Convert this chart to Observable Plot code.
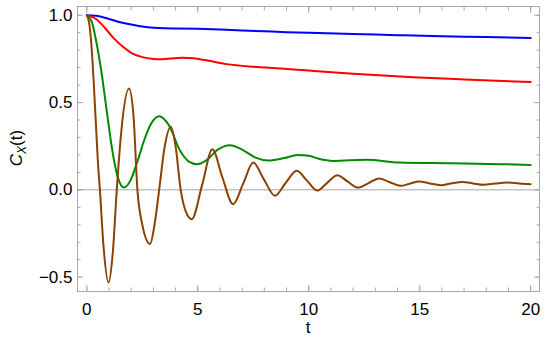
<!DOCTYPE html>
<html><head><meta charset="utf-8">
<script src="https://cdn.jsdelivr.net/npm/d3@7"></script>
<script src="https://cdn.jsdelivr.net/npm/@observablehq/plot@0.6"></script>
<style>body{margin:0;background:#fff;} svg{display:block}</style>
</head><body><div id="chart"></div>
<script>
// Data
const blueT = [0, 0.5, 1.0, 1.5, 2.0, 2.5, 3.0, 3.5, 4, 5, 6, 7, 8, 9, 10, 12, 14, 16, 18, 20];
const blueV = [1.0, 0.995, 0.978, 0.96, 0.947, 0.935, 0.928, 0.925, 0.924, 0.922, 0.918, 0.913, 0.908, 0.903, 0.899, 0.893, 0.886, 0.88, 0.875, 0.869];

const redT = [0, 0.4, 0.8, 1.2, 1.6, 2.0, 2.5, 3.0, 3.4, 3.8, 4.3, 4.8, 5.3, 6.3, 7.5, 8.74, 10, 12, 14.7, 17, 20];
const redV = [1.0, 0.98, 0.93, 0.87, 0.822, 0.785, 0.76, 0.75, 0.748, 0.752, 0.756, 0.753, 0.744, 0.72, 0.705, 0.695, 0.683, 0.665, 0.645, 0.632, 0.617];

const greenT = [0, 0.23, 0.4, 0.66, 0.9, 1.15, 1.4, 1.68, 1.95, 2.3, 2.6, 2.9, 3.26, 3.7, 4.2, 4.6, 4.98, 5.4, 5.9, 6.45, 7.0, 7.6, 8.2, 8.9, 9.5, 10.0, 10.45, 11.1, 12.6, 14.1, 16.4, 18.65, 20];
const greenV = [1.0, 0.96, 0.865, 0.674, 0.45, 0.225, 0.07, 0.013, 0.05, 0.17, 0.29, 0.38, 0.422, 0.37, 0.225, 0.162, 0.147, 0.17, 0.23, 0.256, 0.23, 0.185, 0.168, 0.182, 0.2, 0.195, 0.178, 0.166, 0.172, 0.156, 0.152, 0.147, 0.143];

const brownT = [0, 0.1, 0.2, 0.3, 0.4, 0.5, 0.59, 0.75, 0.98, 1.17, 1.35, 1.55, 1.9, 2.1, 2.28, 2.5, 2.85, 3.05, 3.26, 3.5, 3.78, 4.0, 4.23, 4.45, 4.73, 5.2, 5.66, 6.1, 6.59, 7.05, 7.5, 7.98, 8.48, 8.95, 9.46, 9.92, 10.39, 10.83, 11.29, 11.75, 12.22, 12.7, 13.17, 13.65, 14.14, 14.55, 14.97, 15.45, 15.95, 16.4, 16.92, 17.4, 17.88, 18.4, 18.95, 19.5, 20];
const brownV = [1.0, 0.96, 0.84, 0.64, 0.4, 0.16, 0.0, -0.32, -0.53, -0.36, 0.0, 0.33, 0.58, 0.43, 0.0, -0.2, -0.31, -0.2, 0.0, 0.24, 0.362, 0.25, 0.0, -0.12, -0.168, 0.03, 0.232, 0.075, -0.082, 0.037, 0.156, 0.06, -0.034, 0.038, 0.109, 0.053, -0.004, 0.04, 0.084, 0.048, 0.013, 0.039, 0.065, 0.044, 0.023, 0.035, 0.048, 0.037, 0.027, 0.036, 0.045, 0.037, 0.029, 0.036, 0.042, 0.036, 0.032];

const xMajor = [0, 5, 10, 15, 20];
const xMinor = d3.range(0, 21, 1);
const yMajor = [-0.5, 0, 0.5, 1.0];
const yMinor = d3.range(-5, 11, 1).map(d => d / 10);

const seriesList = [
  {t: blueT, v: blueV, color: "#0000ff"},
  {t: redT, v: redV, color: "#ff0000"},
  {t: greenT, v: greenV, color: "#008a00"},
  {t: brownT, v: brownV, color: "#8a4200"}
];

const frameColor = "#a8a8a8";
const font = "Liberation Sans, Arial, sans-serif";

const tickMarks = [];
for (const [anchor, ticks, size] of [["bottom", xMajor, -6], ["bottom", xMinor, -3.5], ["top", xMajor, -6], ["top", xMinor, -3.5]]) {
  tickMarks.push(Plot.axisX(ticks, {anchor, tickSize: size, tickFormat: () => "", stroke: frameColor, label: null}));
}
for (const [anchor, ticks, size] of [["left", yMajor, -6], ["left", yMinor, -3.5], ["right", yMajor, -6], ["right", yMinor, -3.5]]) {
  tickMarks.push(Plot.axisY(ticks, {anchor, tickSize: size, tickFormat: () => "", stroke: frameColor, label: null}));
}

const chart = Plot.plot({
  width: 550,
  height: 345,
  marginLeft: 77,
  marginRight: 11,
  marginTop: 6,
  marginBottom: 54,
  style: {fontFamily: font, fontSize: "17px", background: "#fff"},
  x: {domain: [-0.42, 20.4]},
  y: {domain: [-0.582, 1.05]},
  marks: [
    Plot.ruleY([0], {stroke: "#c4c4c4", strokeWidth: 1.5}),
    ...seriesList.map(s => Plot.line(s.t.map((t, i) => ({t, v: s.v[i]})), {x: "t", y: "v", stroke: s.color, strokeWidth: 2, curve: "monotone-x"})),
    Plot.frame({stroke: frameColor, strokeWidth: 1}),
    ...tickMarks,
    Plot.axisX(xMajor, {anchor: "bottom", tickSize: 0, tickPadding: 11, fontSize: 17, label: null, tickFormat: d3.format("d")}),
    Plot.axisY(yMajor, {anchor: "left", tickSize: 0, tickPadding: 5, fontSize: 17, label: null, tickFormat: d3.format(".1f")})
  ]
});

const svg = d3.select(chart);
svg.append("text")
  .attr("x", 308).attr("y", 333)
  .attr("text-anchor", "middle")
  .attr("font-family", font).attr("font-size", 17).attr("fill", "#000")
  .text("t");
const yl = svg.append("text")
  .attr("transform", "translate(22,148) rotate(-90)")
  .attr("text-anchor", "middle")
  .attr("font-family", font).attr("font-size", 17).attr("fill", "#000");
yl.append("tspan").attr("font-style", "italic").text("C");
yl.append("tspan").attr("font-style", "italic").attr("font-size", 12).attr("dy", 4).text("X");
yl.append("tspan").attr("dy", -4).text("(t)");

document.getElementById("chart").appendChild(chart);
</script></body></html>
